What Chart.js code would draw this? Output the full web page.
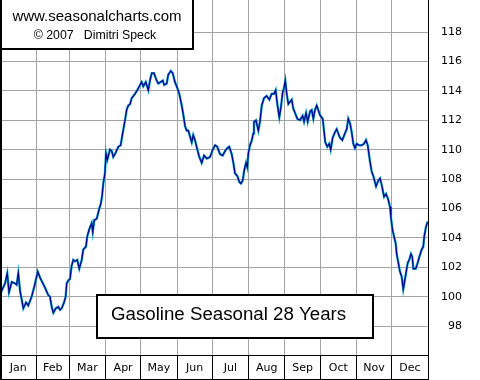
<!DOCTYPE html>
<html lang="en">
<head>
<meta charset="UTF-8">
<title>Gasoline Seasonal 28 Years</title>
<script src="https://cdn.jsdelivr.net/npm/chart.js"></script>
<style>
    body { margin: 0; padding: 0; background: #fff; }
    #chart { display: block; }
</style>
</head>
<body>
<canvas id="chart" width="480" height="380"></canvas>
<script>
    // Seasonal pattern, day of year vs. index value
    const days = [0, 1.4, 4.3, 6.2, 7.7, 10.0, 12.8, 14.2, 15.6, 17.1, 18.5, 19.9, 22.2, 24.1, 27.0, 29.3,
        32.2, 34.1, 38.4, 41.2, 42.6, 44.1, 45.5, 47.5, 49.7, 51.2, 52.6, 54.6, 56.0, 56.9, 58.2, 59.7,
        61.1, 62.5, 64.0, 65.9, 67.6, 69.7, 71.0, 73.3, 74.4, 76.2, 78.2, 79.1, 80.4, 82.5, 84.7, 85.9,
        87.0, 88.1, 89.5, 90.4, 91.5, 93.8, 95.3, 96.6, 98.1, 100.9, 102.9, 104.6, 106.6, 108.0, 109.4,
        110.9, 112.3, 115.1, 117.1, 119.4, 120.8, 122.2, 124.3, 126.5, 127.9, 129.4, 131.3, 133.6, 135.0,
        137.0, 138.8, 140.1, 142.2, 143.5, 145.6, 147.3, 149.2, 151.2, 152.9, 155.0, 156.3, 157.8, 159.2,
        160.6, 162.0, 163.5, 164.8, 166.3, 168.3, 170.0, 172.0, 174.0, 176.3, 179.1, 181.4, 183.4, 185.3,
        187.6, 189.9, 191.9, 193.8, 195.5, 197.6, 199.0, 200.4, 202.4, 204.1, 205.5, 207.0, 208.3, 209.8,
        210.9, 211.8, 213.2, 214.6, 216.0, 216.6, 218.3, 220.3, 221.7, 223.2, 225.1, 227.4, 229.7, 231.7,
        233.7, 235.1, 236.5, 238.2, 239.6, 241.1, 242.2, 243.3, 244.5, 245.9, 247.3, 248.8, 250.1, 251.6,
        253.5, 255.8, 258.1, 259.3, 261.0, 262.4, 264.4, 265.8, 267.2, 268.6, 270.1, 271.4, 272.9, 275.2,
        276.3, 277.4, 279.1, 280.8, 282.0, 283.7, 285.7, 287.1, 288.5, 290.0, 291.9, 293.6, 295.7, 297.0,
        298.5, 299.9, 301.3, 302.7, 304.2, 306.2, 308.5, 310.4, 312.1, 313.6, 314.1, 315.5, 317.0, 318.4,
        320.7, 322.6, 324.1, 325.5, 327.5, 329.2, 331.1, 332.6, 333.4, 334.6, 336.0, 337.5, 338.3, 339.7,
        341.1, 342.6, 343.9, 344.8, 346.2, 347.7, 349.0, 350.5, 351.6, 352.5, 354.5, 356.2, 357.6, 359.6,
        361.0, 361.8, 363.3, 364.7];
    const values = [100.0, 100.4, 100.9, 101.6, 100.3, 101.0, 100.9, 100.8, 101.6, 100.4, 99.8, 99.2, 99.6, 99.4, 100.0, 100.7,
        101.7, 101.3, 100.6, 100.1, 100.0, 99.3, 98.9, 99.2, 99.3, 99.1, 99.2, 99.6, 100.0, 100.9, 101.1, 101.2,
        102.1, 102.5, 102.4, 102.5, 101.9, 102.5, 103.2, 103.4, 104.1, 104.6, 105.0, 104.4, 105.2, 105.3, 106.0, 106.3,
        106.8, 107.7, 108.4, 109.75, 109.3, 110.0, 109.9, 109.5, 109.7, 110.2, 110.3, 111.1, 112.0, 112.7, 113.0,
        113.1, 113.5, 113.8, 114.05, 114.4, 114.6, 114.3, 114.6, 114.05, 114.7, 115.2, 115.2, 114.7, 114.5,
        114.6, 114.7, 114.4, 114.5, 115.1, 115.35, 115.2, 114.6, 114.2, 113.8, 113.0, 112.4, 111.6, 111.3,
        111.3, 110.9, 110.5, 111.0, 110.65, 110.0, 109.5, 109.1, 109.6, 109.4, 109.5, 110.0, 110.3, 110.2,
        109.7, 109.6, 109.9, 110.1, 110.2, 109.7, 109.1, 108.4, 108.2, 107.8, 107.7, 107.9, 108.6, 109.1,
        108.8, 109.75, 110.3, 110.6, 111.1, 111.9, 112.0, 111.3, 111.9, 113.0, 113.5, 113.65, 113.4, 113.8,
        113.8, 114.05, 113.1, 112.2, 112.9, 113.9, 114.2, 114.7, 113.8, 113.1, 113.25, 113.4, 112.8, 112.5,
        112.1, 112.0, 112.3, 111.9, 112.5, 111.9, 112.6, 112.7, 112.1, 112.7, 113.0, 112.7, 112.35, 112.1,
        111.3, 110.5, 110.2, 110.4, 110.0, 110.8, 111.2, 111.4, 111.1, 110.8, 110.65, 111.0, 111.4, 112.1,
        111.8, 111.2, 110.4, 110.1, 110.4, 110.3, 110.3, 110.4, 110.65, 110.3, 110.0, 109.2, 108.5, 108.2,
        107.5, 107.9, 108.05, 107.6, 106.8, 107.0, 106.6, 106.1, 105.4, 104.6, 104.1, 103.6, 102.9, 102.3,
        101.7, 101.35, 100.5, 100.9, 101.6, 102.3, 102.5, 102.9, 102.7, 101.9, 101.9, 102.3, 102.7, 103.2,
        103.4, 104.1, 104.75, 105.1];

    const months = ['Jan', 'Feb', 'Mar', 'Apr', 'May', 'Jun', 'Jul', 'Aug', 'Sep', 'Oct', 'Nov', 'Dec'];
    const monthStarts = [0, 31, 59, 90, 120, 151, 181, 212, 243, 273, 304, 334, 365];
    const yTicks = [98, 100, 102, 104, 106, 108, 110, 112, 114, 116, 118];

    const points = days.map((d, i) => ({ x: d, y: values[i] }));

    // x ticks: month boundaries carry the grid, mid-month ticks carry the labels
    const xTicks = [];
    monthStarts.forEach((d, i) => {
        xTicks.push({ value: d, edge: true });
        if (i < months.length) xTicks.push({ value: (d + monthStarts[i + 1]) / 2, label: months[i] });
    });

    const frame = {
        id: 'frame',
        afterDraw(chart) {
            const c = chart.ctx;
            const a = chart.chartArea;
            c.save();
            c.strokeStyle = '#000';
            // plot and month-row frame
            c.lineWidth = 2;
            c.beginPath();
            c.moveTo(1, 0); c.lineTo(1, 380);
            c.stroke();
            c.lineWidth = 1;
            c.beginPath();
            c.moveTo(a.right + 0.5, 0); c.lineTo(a.right + 0.5, 380);
            c.moveTo(0, a.bottom + 0.5); c.lineTo(a.right, a.bottom + 0.5);
            c.moveTo(0, 379.5); c.lineTo(a.right, 379.5);
            c.stroke();

            // credit box
            c.fillStyle = '#fff';
            c.fillRect(0, 0, 194, 50);
            c.lineWidth = 2;
            c.strokeRect(1, -2, 192, 51);
            c.fillStyle = '#000';
            c.textAlign = 'center';
            c.textBaseline = 'alphabetic';
            c.font = '15px "Liberation Sans", Arial, sans-serif';
            c.fillText('www.seasonalcharts.com', 97, 21);
            c.font = '12.3px "Liberation Sans", Arial, sans-serif';
            c.fillText('\u00a9 2007   Dimitri Speck', 95, 38.5);

            // title box
            c.fillStyle = '#fff';
            c.fillRect(96, 294, 278, 45);
            c.strokeRect(97, 295, 276, 43);
            c.fillStyle = '#000';
            c.textAlign = 'left';
            c.font = '18.7px "Liberation Sans", Arial, sans-serif';
            c.fillText('Gasoline Seasonal 28 Years', 111, 320);
            c.restore();
        }
    };

    new Chart(document.getElementById('chart'), {
        type: 'line',
        data: {
            datasets: [{
                data: points,
                borderColor: '#00008c',
                borderWidth: 1.2,
                pointRadius: 0,
                tension: 0
            }, {
                data: points,
                borderColor: '#1aa6d6',
                borderWidth: 2.4,
                pointRadius: 0,
                tension: 0
            }]
        },
        options: {
            responsive: false,
            animation: false,
            layout: { padding: { left: 0, top: 0, bottom: 0, right: 18 } },
            plugins: { legend: { display: false }, tooltip: { enabled: false } },
            scales: {
                x: {
                    type: 'linear',
                    min: 0,
                    max: 365,
                    afterBuildTicks: s => { s.ticks = xTicks.map(t => ({ ...t })); },
                    afterFit: s => {
                        s.height = 25;
                        s.paddingLeft = 0; s.paddingRight = 0;
                    },
                    border: { display: false },
                    grid: {
                        color: ctx => (ctx.tick && ctx.tick.edge && ctx.tick.value > 0 && ctx.tick.value < 365) ? '#a4a4a4' : 'rgba(0,0,0,0)',
                        tickColor: ctx => (ctx.tick && ctx.tick.edge) ? '#000' : 'rgba(0,0,0,0)',
                        tickLength: 24,
                        lineWidth: 1
                    },
                    ticks: {
                        autoSkip: false,
                        maxRotation: 0,
                        padding: -17.5,
                        color: '#000',
                        font: { family: '"DejaVu Sans"', size: 11 },
                        callback: (v, i) => xTicks[i].label || ''
                    }
                },
                y: {
                    position: 'right',
                    min: 96.03,
                    max: 120.18,
                    afterBuildTicks: s => { s.ticks = yTicks.map(v => ({ value: v })); },
                    afterFit: s => {
                        s.width = 34;
                        s.paddingTop = 0; s.paddingBottom = 0;
                    },
                    border: { display: false },
                    grid: { color: '#a4a4a4', drawTicks: false, lineWidth: 1 },
                    ticks: {
                        crossAlign: 'far',
                        padding: 0,
                        color: '#000',
                        font: { family: '"DejaVu Sans"', size: 11 }
                    }
                }
            }
        },
        plugins: [frame]
    });
</script>
</body>
</html>
